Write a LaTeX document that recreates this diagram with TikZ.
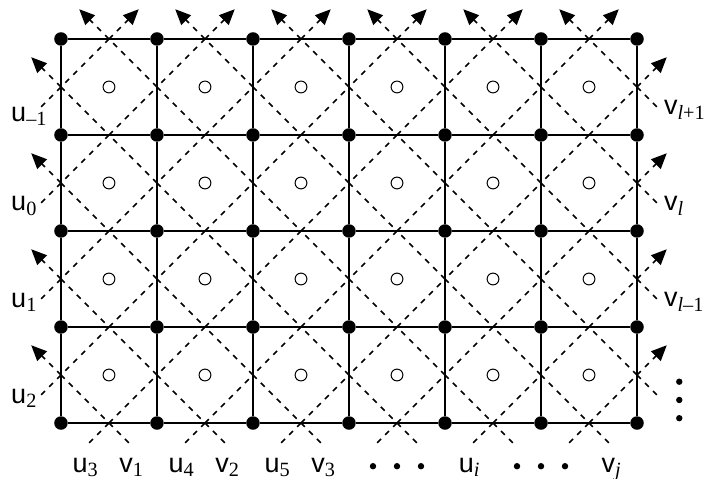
\documentclass[tikz,border=0pt]{standalone}
\usepackage{fontspec}
\setmainfont{Liberation Serif}
\setsansfont{Liberation Sans}
\usetikzlibrary{arrows.meta,positioning}

\newcommand{\lab}[2]{\textsf{#1}\textsubscript{#2}}

\begin{document}
\begin{tikzpicture}[
  >={Triangle[length=4.6pt,width=4pt]},
  vertex/.style={circle, fill=black, inner sep=0pt, minimum size=4pt},
  site/.style={circle, draw, line width=0.3pt, inner sep=0pt, minimum size=3.5pt},
  bond/.style={line width=0.6pt},
  trail/.style={line width=0.5pt, dash pattern=on 1.6pt off 1.75pt},
  tag/.style={font=\fontsize{8}{9.5}\selectfont, inner sep=1pt},
  ellip/.style={circle, fill=black, inner sep=0pt, minimum size=1.9pt}
]
\useasboundingbox (-0.635,-0.583) rectangle (6.708,4.406);

% edge midpoints
\foreach \i in {0,...,5}
  \foreach \j in {0,...,4}
    \coordinate (h-\i-\j) at (\i+0.5,\j);
\foreach \i in {0,...,6}
  \foreach \j in {0,...,3}
    \coordinate (e-\i-\j) at (\i,\j+0.5);

% dashed diamonds
\foreach \i [count=\ip from 1] in {0,...,5}
  \foreach \j [count=\jp from 1] in {0,...,3}
    \draw[trail] (h-\i-\j) -- (e-\ip-\j) -- (h-\i-\jp) -- (e-\i-\j) -- cycle;

% lattice
\foreach \i in {0,...,6}
  \foreach \j in {0,...,4}
    \node[vertex] (p-\i-\j) at (\i,\j) {};
\foreach \i [count=\ip from 1] in {0,...,5}
  \foreach \j in {0,...,4}
    \draw[bond] (p-\i-\j) -- (p-\ip-\j);
\foreach \i in {0,...,6}
  \foreach \j [count=\jp from 1] in {0,...,3}
    \draw[bond] (p-\i-\j) -- (p-\i-\jp);
\foreach \i in {0,...,5}
  \foreach \j in {0,...,3}
    \node[site] (c-\i-\j) at (\i+0.5,\j+0.5) {};

% top ends
\foreach \i in {0,...,5} {
  \coordinate (tl-\i) at (\i+0.19,4.31);
  \coordinate (tr-\i) at (\i+0.81,4.31);
  \draw[trail,->] (h-\i-4) -- (tl-\i);
  \draw[trail,->] (h-\i-4) -- (tr-\i);
}
% left and right ends
\foreach \j in {0,...,3} {
  \coordinate (al-\j) at (-0.31,\j+0.81);
  \coordinate (bl-\j) at (-0.24,\j+0.26);
  \coordinate (ar-\j) at (6.31,\j+0.81);
  \coordinate (br-\j) at (6.24,\j+0.26);
  \draw[trail,->] (e-0-\j) -- (al-\j);
  \draw[trail] (e-0-\j) -- (bl-\j);
  \draw[trail,->] (e-6-\j) -- (ar-\j);
  \draw[trail] (e-6-\j) -- (br-\j);
}
% bottom ends
\foreach \i in {0,...,5} {
  \coordinate (bu-\i) at (\i+0.26,-0.24);
  \coordinate (bv-\i) at (\i+0.74,-0.24);
  \draw[trail] (h-\i-0) -- (bu-\i);
  \draw[trail] (h-\i-0) -- (bv-\i);
}

% labels
\coordinate (lx) at (-0.56,0);
\node[tag, anchor=west, yshift=-2pt] (u-m1) at (bl-3 -| lx) {\lab{u}{–1}};
\node[tag, anchor=west] (u-0) at (bl-2 -| lx) {\lab{u}{0}};
\node[tag, anchor=west] (u-1) at (bl-1 -| lx) {\lab{u}{1}};
\node[tag, anchor=west] (u-2) at (bl-0 -| lx) {\lab{u}{2}};
\node[tag, anchor=west] (v-lp) at (br-3) {\lab{v}{\textit{l}+1}};
\node[tag, anchor=west] (v-l) at (br-2) {\lab{v}{\textit{l}}};
\node[tag, anchor=west] (v-lm) at (br-1) {\lab{v}{\textit{l}–1}};
\node[tag, anchor=north, yshift=-2.5pt] (u-3) at (bu-0) {\lab{u}{3}};
\node[tag, anchor=north, yshift=-2.5pt] (v-1) at (bv-0) {\lab{v}{1}};
\node[tag, anchor=north, yshift=-2.5pt] (u-4) at (bu-1) {\lab{u}{4}};
\node[tag, anchor=north, yshift=-2.5pt] (v-2) at (bv-1) {\lab{v}{2}};
\node[tag, anchor=north, yshift=-2.5pt] (u-5) at (bu-2) {\lab{u}{5}};
\node[tag, anchor=north, yshift=-2.5pt] (v-3) at (bv-2) {\lab{v}{3}};
\node[tag, anchor=north, yshift=-2.5pt] (u-i) at (bu-4) {\lab{u}{\textit{i}}};
\node[tag, anchor=north, yshift=-2.5pt] (v-j) at (bv-5) {\lab{v}{\textit{j}}};

% ellipses
\foreach \x [count=\c] in {3.25,3.5,3.75}
  \node[ellip] (da-\c) at (\x,-0.45) {};
\foreach \x [count=\c] in {4.75,5,5.25}
  \node[ellip] (db-\c) at (\x,-0.45) {};
\foreach \y [count=\c] in {0.43,0.24,0.05}
  \node[ellip] (dc-\c) at (6.44,\y) {};
\end{tikzpicture}
\end{document}
